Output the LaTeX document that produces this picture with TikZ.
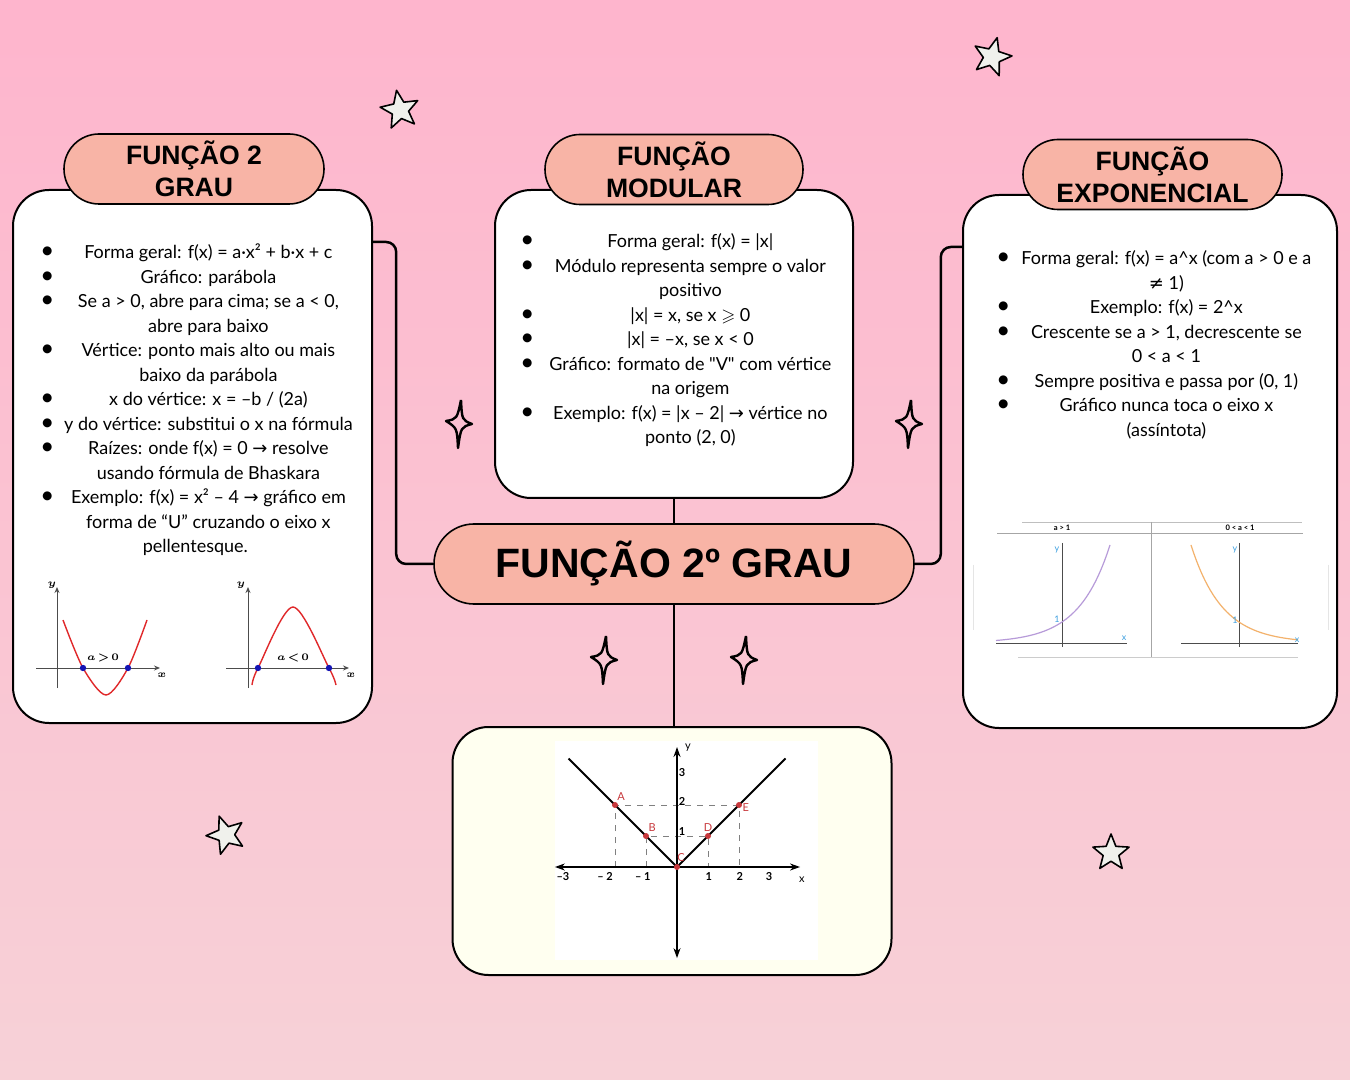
\documentclass[tikz,border=0pt]{standalone}
\usepackage{fontspec}
\usepackage{amssymb}
\usepackage{array}
\setmainfont{Lato}[Ligatures=TeXOff]
\newfontfamily\titlefont{Liberation Sans}
\newfontfamily\symfont{DejaVu Sans}
\usetikzlibrary{arrows.meta,shapes.geometric}

\definecolor{bgtop}{HTML}{FEB5CD}
\definecolor{bgbottom}{HTML}{F7D1D7}
\definecolor{pillfill}{HTML}{F8B4A6}
\definecolor{ivory}{HTML}{FFFFF0}
\definecolor{starfill}{HTML}{F0F1EC}
\definecolor{curvered}{HTML}{E0282A}
\definecolor{rootblue}{HTML}{1414B4}
\definecolor{exppurple}{HTML}{B79BD9}
\definecolor{exporange}{HTML}{F3B26C}
\definecolor{axisblue}{HTML}{3C9FE0}
\definecolor{pointred}{HTML}{C8383C}

\newcommand{\blt}{{\fontsize{12}{12}\selectfont\textbullet}}
\newcommand{\seta}{{\symfont →}}
\newcommand{\brilho}[2]{\draw[sparkline, shift={(#1,#2)}] (2,-24) .. controls (3,-4) .. (13,0) .. controls (2,3) .. (-1,24) .. controls (-2,4) .. (-13,-3) .. controls (-2,-5) .. (2,-24);}

\tikzset{
  infobox/.style = {
    rectangle,
    draw,
    line width=1pt,
    fill=white,
    rounded corners=18pt,
    inner sep=0pt
  },
  titlepill/.style = {
    rectangle,
    draw,
    line width=0.8pt,
    fill=pillfill,
    rounded corners=17.5pt,
    align=center,
    inner sep=0pt,
    minimum height=35pt,
    font=\titlefont\bfseries\fontsize{13.3}{16}\selectfont
  },
  mainpill/.style = {
    rectangle,
    draw,
    line width=0.8pt,
    fill=pillfill,
    rounded corners=20pt,
    inner sep=0pt,
    minimum width=240pt,
    minimum height=40pt,
    font=\titlefont\bfseries\fontsize{20.5}{24}\selectfont
  },
  itemlist/.style = {
    anchor=base west,
    inner sep=0pt,
    font=\fontsize{9}{12.25}\selectfont
  },
  connector/.style = {
    line width=1.25pt,
    rounded corners=5pt
  },
  whitestar/.style = {
    star,
    star points=5,
    star point ratio=2.3,
    draw,
    line width=0.8pt,
    line join=round,
    fill=starfill,
    minimum size=20pt,
    inner sep=0pt
  },
  sparkline/.style = {
    line width=1.2pt,
    line join=round
  },
  graphaxis/.style = {
    line width=0.5pt,
    gray!60!black
  },
  tinylabel/.style = {
    inner sep=0pt
  }
}

\begin{document}
\begin{tikzpicture}[x=0.5pt, y=-0.5pt]
    \useasboundingbox (0,0) rectangle (1350,1080);
    \shade[top color=bgtop, bottom color=bgbottom] (0,0) rectangle (1350,1080);

    % caixas
    \node[infobox, minimum width=179.5pt, minimum height=266.5pt] (lbox) at (192.5,456.5) {};
    \node[infobox, minimum width=179pt, minimum height=154pt] (mbox) at (674,344) {};
    \node[infobox, minimum width=187pt, minimum height=266.5pt] (rbox) at (1150,461.5) {};
    \node[infobox, fill=ivory, minimum width=219.5pt, minimum height=124pt] (gbox) at (672,851) {};
    \node[mainpill] (main) at (674,564) {FUNÇÃO 2º GRAU};

    \draw[connector] ([yshift=-26.5pt]lbox.north east) -| ([xshift=-18.5pt]main.west) -- (main.west);
    \draw[connector] ([yshift=-26.5pt]rbox.north west) -| ([xshift=13pt]main.east) -- (main.east);
    \draw[connector] (mbox.south) -- (mbox.south |- main.north);
    \draw[connector] (main.south) -- (main.south |- gbox.north);

    \node[titlepill, minimum width=130pt] (tquad) at (194,169) {FUNÇÃO 2\\GRAU};
    \node[titlepill, minimum width=129pt] (tmod) at (674,169.5) {FUNÇÃO\\MODULAR};
    \node[titlepill, minimum width=129.5pt] (texp) at (1152.5,174.5) {FUNÇÃO\\EXPONENCIAL};

    % textos
    \node[itemlist] (listquad) at (40,259) {%
      \begin{tabular}[t]{@{}p{11.5pt}@{}>{\centering\arraybackslash}p{145pt}@{}}
        \blt & Forma geral: f(x) = a·x² + b·x + c\\
        \blt & Gráfico: parábola\\
        \blt & Se a > 0, abre para cima; se a < 0,\\
             & abre para baixo\\
        \blt & Vértice: ponto mais alto ou mais\\
             & baixo da parábola\\
        \blt & x do vértice: x = –b / (2a)\\
        \blt & y do vértice: substitui o x na fórmula\\
        \blt & Raízes: onde f(x) = 0 \seta{} resolve\\
             & usando fórmula de Bhaskara\\
        \blt & Exemplo: f(x) = x² – 4 \seta{} gráfico em\\
             & forma de “U” cruzando o eixo x\\
             & pellentesque.\hspace*{13pt}\mbox{}\\
      \end{tabular}};
    \node[itemlist] (listmod) at (520,248) {%
      \begin{tabular}[t]{@{}p{10pt}@{}>{\centering\arraybackslash}p{150pt}@{}}
        \blt & Forma geral: f(x) = |x|\\
        \blt & Módulo representa sempre o valor\\
             & positivo\\
        \blt & |x| = x, se x $\geqslant$ 0\\
        \blt & |x| = –x, se x < 0\\
        \blt & Gráfico: formato de "V" com vértice\\
             & na origem\\
        \blt & Exemplo: f(x) = |x – 2| \seta{} vértice no\\
             & ponto (2, 0)\\
      \end{tabular}};
    \node[itemlist] (listexp) at (996,265) {%
      \begin{tabular}[t]{@{}p{10pt}@{}>{\centering\arraybackslash}p{150pt}@{}}
        \blt & Forma geral: f(x) = a\textasciicircum x (com a > 0 e a\\
             & {\symfont ≠} 1)\\
        \blt & Exemplo: f(x) = 2\textasciicircum x\\
        \blt & Crescente se a > 1, decrescente se\\
             & 0 < a < 1\\
        \blt & Sempre positiva e passa por (0, 1)\\
        \blt & Gráfico nunca toca o eixo x\\
             & (assíntota)\\
      \end{tabular}};

    % parabolas
    \draw[graphaxis, -{Stealth[length=3pt,width=2.5pt]}] (57,688) -- (57,587);
    \draw[graphaxis, -{Stealth[length=3pt,width=2.5pt]}] (36,668) -- (160,668);
    \draw[curvered, line width=0.7pt] plot[smooth] coordinates {(63,620) (83,668) (106,695) (128,668) (147,620)};
    \fill[rootblue] (83,668) circle (1.6pt) (128,668) circle (1.6pt);
    \node[tinylabel, font=\boldmath\fontsize{5.5}{6}\selectfont] (ly1) at (52,585) {$y$};
    \node[tinylabel, font=\boldmath\fontsize{5.5}{6}\selectfont] (lx1) at (162,675) {$x$};
    \node[tinylabel, font=\boldmath\fontsize{5.5}{6}\selectfont] (la1) at (103,658) {$a\!>\!0$};
    \draw[graphaxis, -{Stealth[length=3pt,width=2.5pt]}] (248,688) -- (248,587);
    \draw[graphaxis, -{Stealth[length=3pt,width=2.5pt]}] (226,668) -- (349,668);
    \draw[curvered, line width=0.7pt] plot[smooth] coordinates {(252,685) (258,668) (293,607) (329,668) (336,685)};
    \fill[rootblue] (258,668) circle (1.6pt) (329,668) circle (1.6pt);
    \node[tinylabel, font=\boldmath\fontsize{5.5}{6}\selectfont] (ly2) at (241,585) {$y$};
    \node[tinylabel, font=\boldmath\fontsize{5.5}{6}\selectfont] (lx2) at (351,675) {$x$};
    \node[tinylabel, font=\boldmath\fontsize{5.5}{6}\selectfont] (la2) at (293,658) {$a\!<\!0$};

    % exponenciais
    \draw[gray!50, line width=0.4pt] (1022,522) -- (1302,522);
    \draw[gray!70, line width=0.5pt] (997,534) -- (1303,534);
    \draw[gray!70, line width=0.5pt] (1151,522) -- (1151,658);
    \draw[gray!40, line width=0.5pt] (1018,657) -- (1298,657);
    \draw[gray!20, line width=0.5pt] (973,565) -- (973,630);
    \draw[gray!20, line width=0.5pt] (1328,565) -- (1328,630);
    \node[tinylabel, font=\bfseries\fontsize{3.8}{4}\selectfont] (lmaior) at (1062,528) {a > 1};
    \node[tinylabel, font=\bfseries\fontsize{3.8}{4}\selectfont] (lmenor) at (1240,528) {0 < a < 1};
    \draw[graphaxis] (1062,543) -- (1062,647);
    \draw[graphaxis] (996,643) -- (1127,643);
    \draw[exppurple, line width=0.6pt] plot[domain=996:1110, samples=40] (\x, {643-21*exp(0.0321*(\x-1062))});
    \draw[graphaxis] (1239,543) -- (1239,647);
    \draw[graphaxis] (1181,643) -- (1298,643);
    \draw[exporange, line width=0.6pt] plot[domain=1191:1298, samples=40] (\x, {643-21*exp(-0.0321*(\x-1239))});
    \node[tinylabel, text=axisblue, font=\fontsize{4.5}{5}\selectfont] (ey1) at (1057,550) {y};
    \node[tinylabel, text=axisblue, font=\fontsize{4.5}{5}\selectfont] (ex1) at (1124,638) {x};
    \node[tinylabel, text=axisblue, font=\fontsize{4.5}{5}\selectfont] (eu1) at (1057,619) {1};
    \node[tinylabel, text=axisblue, font=\fontsize{4.5}{5}\selectfont] (ey2) at (1235,550) {y};
    \node[tinylabel, text=axisblue, font=\fontsize{4.5}{5}\selectfont] (ex2) at (1297,640) {x};
    \node[tinylabel, text=axisblue, font=\fontsize{4.5}{5}\selectfont] (eu2) at (1235,620) {1};

    % modular
    \fill[white] (555,741) rectangle (818,960);
    \begin{scope}[shift={(677,867)}, x=15.5pt, y=15.5pt]
      \draw[dashed, gray, line width=0.5pt] (-2,0) -- (-2,2) -- (2,2) -- (2,0);
      \draw[dashed, gray, line width=0.5pt] (-1,0) -- (-1,1) -- (1,1) -- (1,0);
      \draw[{Stealth[length=5pt,width=3.5pt]}-{Stealth[length=5pt,width=3.5pt]}, line width=0.8pt] (-3.94,0) -- (3.97,0);
      \draw[{Stealth[length=5pt,width=3.5pt]}-{Stealth[length=5pt,width=3.5pt]}, line width=0.8pt] (0,-2.94) -- (0,3.87);
      \draw[line width=0.9pt] (-3.5,3.5) -- (0,0) -- (3.5,3.5);
      \fill[pointred] (-2,2) circle (1.5pt) (-1,1) circle (1.5pt) (0,0) circle (1.5pt) (1,1) circle (1.5pt) (2,2) circle (1.5pt);
      \node[tinylabel, text=pointred, font=\fontsize{5.5}{6}\selectfont] (pa) at (-1.8,2.26) {A};
      \node[tinylabel, text=pointred, font=\fontsize{5.5}{6}\selectfont] (pb) at (-0.8,1.26) {B};
      \node[tinylabel, text=pointred, font=\fontsize{5.5}{6}\selectfont] (pc) at (0.13,0.29) {C};
      \node[tinylabel, text=pointred, font=\fontsize{5.5}{6}\selectfont] (pd) at (1.0,1.26) {D};
      \node[tinylabel, text=pointred, font=\fontsize{5.5}{6}\selectfont] (pe) at (2.22,1.93) {E};
      \node[tinylabel, font=\bfseries\fontsize{5.5}{6}\selectfont] (tm3) at (-3.68,-0.32) {–3};
      \node[tinylabel, font=\bfseries\fontsize{5.5}{6}\selectfont] (tm2) at (-2.32,-0.32) {– 2};
      \node[tinylabel, font=\bfseries\fontsize{5.5}{6}\selectfont] (tm1) at (-1.1,-0.32) {– 1};
      \node[tinylabel, font=\bfseries\fontsize{5.5}{6}\selectfont] (tp1) at (1.03,-0.32) {1};
      \node[tinylabel, font=\bfseries\fontsize{5.5}{6}\selectfont] (tp2) at (2.03,-0.32) {2};
      \node[tinylabel, font=\bfseries\fontsize{5.5}{6}\selectfont] (tp3) at (2.97,-0.32) {3};
      \node[tinylabel, font=\fontsize{5.5}{6}\selectfont] (tx) at (4.03,-0.42) {x};
      \node[tinylabel, font=\bfseries\fontsize{5.5}{6}\selectfont] (ty1) at (0.16,1.13) {1};
      \node[tinylabel, font=\bfseries\fontsize{5.5}{6}\selectfont] (ty2) at (0.16,2.1) {2};
      \node[tinylabel, font=\bfseries\fontsize{5.5}{6}\selectfont] (ty3) at (0.16,3.06) {3};
      \node[tinylabel, font=\fontsize{5.5}{6}\selectfont] (ty) at (0.35,3.84) {y};
    \end{scope}

    % estrelas
    \node[whitestar, rotate=10] (estrela1) at (400,110) {};
    \node[whitestar, rotate=-15] (estrela2) at (992,57) {};
    \node[whitestar, rotate=20] (estrela3) at (226,835) {};
    \node[whitestar, minimum size=19pt] (estrela4) at (1111,853) {};
    \brilho{459}{424}
    \brilho{909}{424}
    \brilho{604}{660}
    \brilho{744}{660}
  \end{tikzpicture}
\end{document}
